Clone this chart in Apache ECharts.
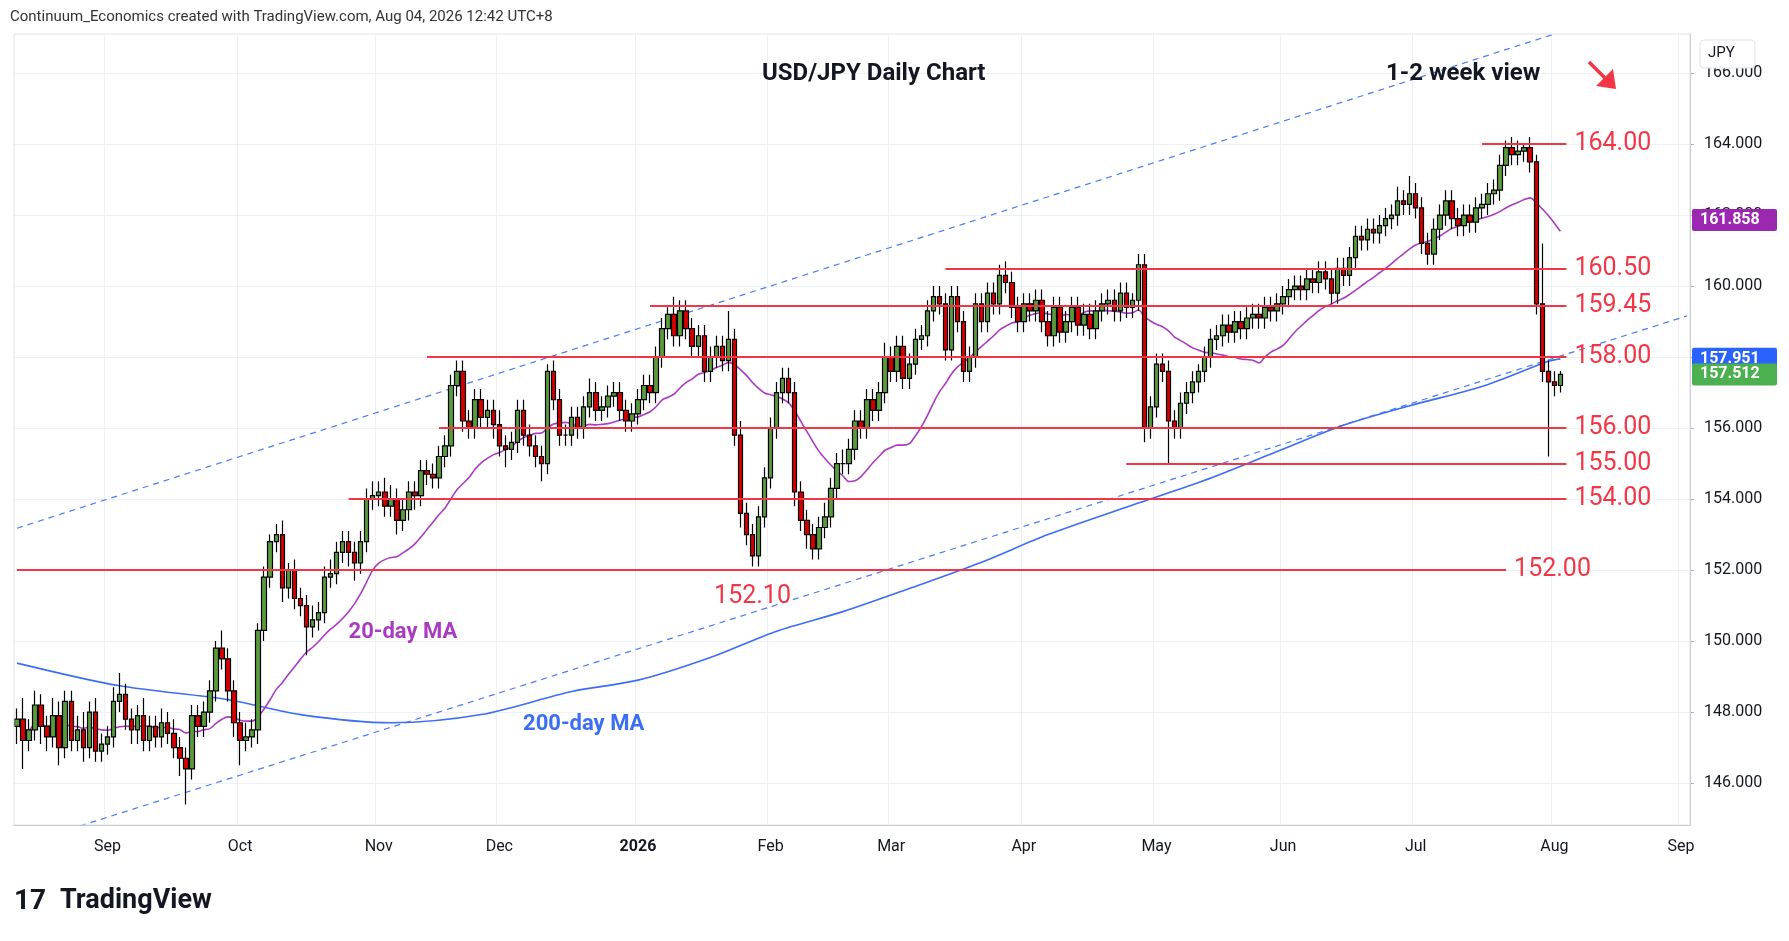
<!DOCTYPE html>
<html><head><meta charset="utf-8">
<script src="https://cdn.jsdelivr.net/npm/echarts@6/dist/echarts.min.js"></script>
<style>html,body{margin:0;padding:0;background:#fff}#c{width:1789px;height:941px}</style>
</head><body><div id="c"></div>
<script>
// Daily closes (USD/JPY), weekdays from Aug 11 2025 to Aug 4 2026
const closes = [
147.8,147.2,147.5,148.2,147.6, 147.3,147.9,147.0,148.3,147.2, 147.5,147.0,148.0,146.9,147.1,
147.3,148.3,148.5,147.8,147.5, 147.9,147.2,147.6,147.3,147.7, 147.4,147.0,146.7,146.4,147.9,
147.6,148.0,148.6,149.8,149.5, 148.6,147.7,147.2,147.3,147.5, 150.3,151.8,152.8,153.0,151.5,
152.0,151.2,151.0,150.4,150.6, 150.8,151.8,151.9,152.5,152.8, 152.5,152.2,152.8,154.0,154.1,
154.2,153.8,154.0,153.4,153.7, 154.2,154.1,154.8,154.7,154.6, 155.2,155.5,157.2,157.6,156.2,
156.0,156.8,156.3,156.5,156.1, 155.5,155.4,155.6,156.5,155.8, 155.5,155.2,155.0,157.6,156.8,
155.8,155.8,156.3,156.0,156.6, 157.0,156.5,156.6,156.9,157.0, 156.5,156.2,156.4,156.8,157.2,
157.0,158.0,158.8,159.2,158.6, 159.3,158.8,158.3,158.6,157.6, 158.0,158.3,157.9,158.5,155.8,
153.6,153.0,152.4,153.5,154.6, 156.0,157.0,157.4,157.0,154.2, 153.4,153.0,152.6,153.2,153.5,
154.3,155.0,155.0,155.4,156.2, 156.0,156.8,156.5,157.0,158.0, 157.6,158.3,157.4,157.8,158.5,
158.6,159.3,159.7,159.5,158.2, 159.7,159.0,157.6,158.0,159.5, 159.0,159.8,159.5,160.3,160.1,
159.4,159.0,159.5,159.3,159.6, 159.0,158.6,159.4,158.7,159.0, 159.4,158.9,159.2,158.8,159.3,
159.5,159.6,159.3,159.8,159.4, 159.6,160.6,156.0,156.6,157.8, 157.6,156.2,156.0,156.7,157.0,
157.3,157.6,158.0,158.5,158.6, 158.9,158.7,159.0,158.8,159.1, 159.2,159.1,159.4,159.3,159.5,
159.7,159.9,160.0,159.9,160.2, 160.1,160.4,160.2,159.8,160.5, 160.3,160.8,161.4,161.3,161.6,
161.5,161.7,161.9,162.0,162.4, 162.3,162.6,162.2,161.2,160.9, 161.6,162.0,162.4,161.9,161.7,
162.0,161.8,162.2,162.3,162.6, 162.7,163.4,163.9,163.7,163.8, 163.9,163.5,159.5,157.6,157.3,
157.2,157.51];
const firstOpen = 147.6;
// upper / lower wick lengths above/below the candle body
const upWick = [
.3,.6,.3,.4,.3, .3,.5,.4,.3,.3, .4,.5,.3,.4,.3, .3,.4,.6,.3,.3, .3,.5,.3,.3,.4, .3,.4,.3,.3,.3,
.3,.3,.3,.2,.5, .3,.3,.3,.4,.3, .2,.3,.2,.3,.4, .2,.3,.3,.3,.4, .3,.3,.4,.3,.3, .3,.3,.3,.3,.4,
.3,.4,.4,.3,.3, .3,.3,.3,.3,.3, .3,.3,.3,.3,.3, .3,.3,.3,.3,.3, .4,.3,.3,.3,.3, .3,.3,.3,.2,.3,
.3,.3,.3,.3,.3, .4,.3,.3,.3,.3, .3,.3,.3,.3,.3, .3,.3,.3,.2,.5, .3,.3,.3,.3,.3, .3,.3,.3,.8,.3,
.4,.3,.3,.3,.3, .3,.3,.3,.3,.3, .3,.3,.3,.3,.4, .3,.3,.4,.3,.3, .3,.3,.3,.3,.4, .3,.3,.3,.3,.3,
.3,.3,.3,.3,.3, .3,.3,.3,.3,.3, .3,.3,.3,.3,.4, .3,.3,.3,.3,.3, .3,.3,.3,.3,.3, .3,.3,.3,.3,.3,
.3,.3,.3,.3,.3, .2,.3,.3,.3,.3, .3,.3,.3,.3,.3, .3,.2,.3,.3,.3, .3,.3,.3,.3,.3, .3,.3,.3,.3,.3,
.3,.3,.3,.3,.3, .3,.3,.3,.3,.3, .3,.3,.3,.3,.3, .3,.3,.3,.3,.4, .3,.5,.3,.3,.3, .3,.3,.3,.3,.3,
.3,.3,.3,.3,.3, .3,.3,.2,.3,.3, .1,.3,.2,1.7,.3, .3,.1];
const downWick = [
.5,.8,.3,.3,.5, .4,.3,.5,.3,.3, .3,.4,.3,.3,.3, .3,.3,.3,.3,.4, .4,.3,.3,.3,.3, .3,.3,.5,1.0,.3,
.3,.3,.3,.3,.3, .3,.4,.7,.3,.3, .4,.3,.3,.3,.4, .3,.3,.3,.8,.3, .3,.3,.3,.3,.3, .4,.5,.3,.3,.3,
.3,.3,.3,.4,.3, .3,.4,.3,.3,.3, .3,.3,.3,.3,.3, .3,.3,.3,.3,.4, .3,.5,.3,.3,.3, .3,.3,.5,.3,.3,
.3,.3,.3,.3,.3, .3,.3,.3,.3,.3, .3,.3,.3,.3,.3, .3,.3,.3,.3,.3, .3,.3,.3,.3,.3, .3,.3,.3,.3,.3,
.4,.3,.3,.3,.3, .3,.3,.3,.3,.4, .3,.4,.3,.3,.3, .3,.3,.3,.3,.3, .3,.3,.3,.3,.3, .3,.3,.3,.3,.3,
.3,.3,.3,.3,.3, .3,.3,.3,.3,.3, .3,.3,.3,.3,.3, .3,.3,.3,.3,.3, .3,.3,.3,.3,.3, .3,.3,.3,.3,.3,
.3,.3,.3,.3,.3, .3,.3,.4,.3,.3, .3,1.2,.3,.3,.3, .3,.3,.3,.3,.3, .3,.3,.3,.3,.3, .3,.3,.3,.3,.3,
.3,.3,.3,.3,.3, .3,.3,.3,.3,.3, .3,.3,.3,.3,.3, .3,.3,.3,.3,.3, .3,.3,.3,.3,.3, .3,.3,.3,.3,.3,
.3,.3,.3,.3,.3, .3,.3,.3,.3,.3, .3,.3,.3,.3,2.1, .3,.2];
// 200-day MA read at [dayIndex, value]
const ma200Pts = [[0,149.38],[17,148.74],[35,148.35],[47,147.93],[62,147.7],[77,147.93],[92,148.58],[103,148.9],[115,149.54],[126,150.28],[137,150.83],[148,151.48],[160,152.22],[171,153.0],[186,153.89],[197,154.53],[209,155.34],[220,156.08],[231,156.63],[243,157.17],[254,157.88],[256,157.95]];
// channel lines [dayIndex, value]
const upperChannel = [[0,153.18],[255,167.1]];
const lowerChannel = [[0,144.23],[277,159.16]];
// horizontal levels: [value, startIndex, endIndex, label]
const levels = [[164,243,257,'164.00'],[160.5,154,257,'160.50'],[159.45,105,257,'159.45'],[158,68,257,'158.00'],[156,70,257,'156.00'],[155,184,257,'155.00'],[154,55,257,'154.00'],[152,0,247,'152.00']];
const yTicks = [146,148,150,152,154,156,158,160,162,164,166];
const futureDays = 21;

const cats = [];
{ let d = new Date(Date.UTC(2025,7,11)); const total = closes.length + futureDays;
  while (cats.length < total) { const wd = d.getUTCDay(); if (wd>0 && wd<6) cats.push(new Date(d)); d.setUTCDate(d.getUTCDate()+1); } }
const mNames=['Jan','Feb','Mar','Apr','May','Jun','Jul','Aug','Sep','Oct','Nov','Dec'];
const monthStart = cats.map((d,i)=> i>0 && d.getUTCMonth()!==cats[i-1].getUTCMonth());
const catLabels = cats.map(d=> d.getUTCMonth()===0 ? String(d.getUTCFullYear()) : mNames[d.getUTCMonth()]);

const ohlc = closes.map((c,i)=>{ const o = i===0?firstOpen:closes[i-1]; return [o,c,Math.min(o,c)-downWick[i],Math.max(o,c)+upWick[i]]; });
const ma20 = closes.map((c,i)=>{ const s=closes.slice(Math.max(0,i-19),i+1); return +(s.reduce((a,b)=>a+b,0)/s.length).toFixed(3); });
const ma200 = new Array(closes.length).fill(null); ma200Pts.forEach(p=>ma200[p[0]]=p[1]);
const up = new Array(cats.length).fill(null); upperChannel.forEach(p=>up[p[0]]=p[1]);
const lo = new Array(cats.length).fill(null); lowerChannel.forEach(p=>lo[p[0]]=p[1]);

const chart = echarts.init(document.getElementById('c'));
const RED='#f23645';
chart.setOption({
  animation:false,
  backgroundColor:'#fff',
  grid:{left:14,right:99,top:34,bottom:116},
  xAxis:{type:'category',data:catLabels,boundaryGap:true,
    axisLine:{show:true,lineStyle:{color:'#b2b5be'}},axisTick:{show:false},
    axisLabel:{interval:(i)=>monthStart[i],color:'#131722',fontSize:16,margin:14,fontFamily:'Roboto',
      formatter:(v)=> /^\d{4}$/.test(v)? '{b|'+v+'}' : v, rich:{b:{fontWeight:'bold',fontSize:16,color:'#131722'}}},
    splitLine:{show:true,interval:(i)=>monthStart[i],lineStyle:{color:'#edf1f6'}}},
  yAxis:{type:'value',position:'right',min:144.82,max:167.1,scale:true,
    axisLine:{show:true,lineStyle:{color:'#b2b5be'}},
    axisTick:{show:true,customValues:yTicks,length:4,lineStyle:{color:'#b2b5be'}},
    axisLabel:{customValues:yTicks,formatter:(v)=>v.toFixed(3),color:'#131722',fontSize:16,margin:14,fontFamily:'Roboto'},
    splitLine:{show:true,customValues:yTicks,lineStyle:{color:'#edf1f6'}}},
  series:[
    {type:'line',data:up,connectNulls:true,symbol:'none',clip:true,lineStyle:{color:'#4a7cf6',width:1.2,type:[6,5]},z:1},
    {type:'line',data:lo,connectNulls:true,symbol:'none',clip:true,lineStyle:{color:'#4a7cf6',width:1.2,type:[6,5]},z:1},
    {type:'line',data:ma200,connectNulls:true,symbol:'none',smooth:0.3,lineStyle:{color:'#3b6ef5',width:1.6},z:2},
    {type:'line',data:ma20,symbol:'none',smooth:0.3,lineStyle:{color:'#a93bc0',width:1.6},z:2},
    {type:'line',data:[],symbol:'none',z:3,
      markLine:{symbol:'none',silent:true,animation:false,
        data:levels.map(l=>[{coord:[l[1],l[0]],lineStyle:{color:RED,width:2,type:'solid'},
          label:{show:true,position:'end',formatter:l[3],color:RED,fontSize:25,fontFamily:'Roboto',distance:8}},{coord:[l[2],l[0]]}])}},
    {type:'candlestick',data:ohlc,barWidth:5,z:4,
      itemStyle:{color:'#5a9b3e',color0:'#d40000',borderColor:'#000',borderColor0:'#000',borderWidth:1.2}}
  ]
});

const px=(i,v)=>chart.convertToPixel({gridIndex:0},[i,v]);
const g=[];
const T=(o)=>{o.z=100;g.push(o);};
T({type:'text',left:10,top:10,style:{text:'Continuum_Economics created with TradingView.com, Aug 04, 2026 12:42 UTC+8',fontSize:15,fill:'#333',fontFamily:'Roboto'}});
T({type:'text',left:762,top:62,style:{text:'USD/JPY Daily Chart',fontSize:24,fontWeight:'bold',fill:'#131722',fontFamily:'Roboto'}});
T({type:'text',left:1386,top:62,style:{text:'1-2 week view',fontSize:24,fontWeight:'bold',fill:'#131722',fontFamily:'Roboto'}});
T({type:'line',shape:{x1:1589,y1:62,x2:1606,y2:79},style:{stroke:RED,lineWidth:3.5}});
T({type:'polygon',shape:{points:[[1616,89],[1596,86],[1613,69]]},style:{fill:RED}});
const p1=px(122,152.1); T({type:'text',x:p1[0],y:p1[1]+30,style:{text:'152.10',fontSize:25,fill:RED,fontFamily:'Roboto',align:'center',verticalAlign:'middle'}});
const p2=px(64,150.25); T({type:'text',x:p2[0],y:p2[1],style:{text:'20-day MA',fontSize:22,fontWeight:'bold',fill:'#a93bc0',fontFamily:'Roboto',align:'center',verticalAlign:'middle'}});
const p3=px(94,147.65); T({type:'text',x:p3[0],y:p3[1],style:{text:'200-day MA',fontSize:22,fontWeight:'bold',fill:'#3b6ef5',fontFamily:'Roboto',align:'center',verticalAlign:'middle'}});
function tag(v,color,txt){const p=px(0,v);T({type:'rect',shape:{x:1692,y:p[1]-11,width:85,height:22,r:2},style:{fill:color}});
  T({type:'text',x:1700,y:p[1],style:{text:txt,fontSize:16,fontWeight:'bold',fill:'#fff',fontFamily:'Roboto',verticalAlign:'middle'}});}
tag(161.858,'#9c27b0','161.858'); tag(157.951,'#2962ff','157.951'); tag(157.512,'#4caf50','157.512');
T({type:'rect',shape:{x:1700,y:40,width:55,height:28,r:4},style:{fill:'#fff',stroke:'#e0e3eb'}});
T({type:'text',x:1708,y:46,style:{text:'JPY',fontSize:15,fill:'#131722',fontFamily:'Roboto'}});
T({type:'text',left:14,top:888,style:{text:'17',fontSize:28,fontWeight:'bold',fill:'#131722',fontFamily:'Roboto'}});
T({type:'text',left:60,top:888,style:{text:'TradingView',fontSize:27,fontWeight:'bold',fill:'#131722',fontFamily:'Roboto'}});
T({type:'rect',shape:{x:14,y:34,width:1676,height:791},style:{fill:'none',stroke:'#e0e3eb'},silent:true});
chart.setOption({graphic:g});
</script></body></html>
